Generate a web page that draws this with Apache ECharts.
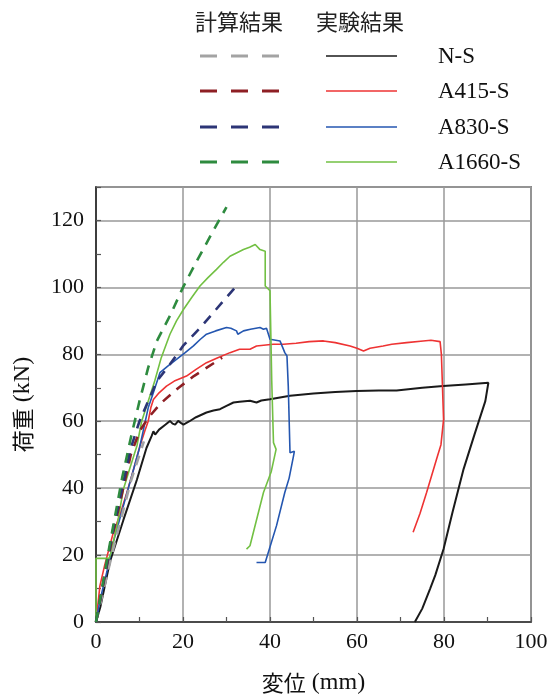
<!DOCTYPE html>
<html><head><meta charset="utf-8">
<script src="https://cdn.jsdelivr.net/npm/echarts@6/dist/echarts.min.js"></script>
<style>html,body{margin:0;padding:0;background:#fff}#c{width:552px;height:700px}</style>
</head><body><div id="c"></div>
<script>
// ---- data: [displacement (mm), load (kN)] ----
const seriesNames = ['N-S', 'A415-S', 'A830-S', 'A1660-S'];
const headerCalc = '計算結果';
const headerExp = '実験結果';
const xTicks = [0, 20, 40, 60, 80, 100];
const yTicks = [0, 20, 40, 60, 80, 100, 120];

const expNS = [[0,0],[1,4.5],[3.2,18],[6.3,30.5],[9.4,42.5],[11.6,52],[12.8,55.6],[13.2,57],[13.6,56],[14.5,57.5],[16,59],[17,60.1],[17.6,59.3],[18.2,59],[18.9,60.1],[19.5,59.5],[20.1,59],[21.5,60],[23,61.2],[25.4,62.6],[27,63.2],[28.5,63.6],[30,64.6],[31.6,65.6],[33,65.8],[35.4,66.1],[36.9,65.6],[38,66.2],[40,66.6],[44.6,67.6],[50,68.3],[55,68.7],[59.9,69],[65,69.2],[69.1,69.2],[75,70],[79.8,70.5],[85,71],[90.2,71.5],[89.5,66],[87,56],[84.5,45.7],[82,33],[79.9,21.8],[78,14],[76.8,9.9],[75,4],[73.3,0]];
const expA415 = [[0,0],[0.9,10.8],[2,17],[4,26.8],[5.5,32],[7.1,38.7],[8.5,45],[10.1,52.6],[11.2,57],[12,60],[12.6,64],[13.2,66.5],[14.5,68.5],[16.2,70.5],[18,72],[20.8,73.5],[23,75.5],[25.4,77.5],[28,79],[30.8,80.5],[33,81.5],[35.4,81.5],[36.9,82.5],[40.7,83],[43.1,83],[46,83.3],[49,83.8],[52.3,84],[55,83.5],[58.4,82.5],[60,81.8],[61.5,81],[63,81.8],[66,82.5],[68,83],[71.4,83.5],[75.2,84],[77,84.2],[79.1,83.8],[79.4,80],[79.9,60.5],[80.2,60],[79.3,53],[78.3,48.7],[76,38.7],[74.5,32.5],[72.9,26.8]];
const expA830 = [[0,0],[1,7],[2.5,15],[4,24],[5.5,31],[7,38],[8.5,45],[10,52],[11,58],[12,64],[13.2,68.6],[14.7,74.5],[16.5,76.5],[18.5,78.5],[20.5,80.5],[22.4,82.5],[24,84.5],[25.4,86],[27.5,87],[30,88],[31,87.8],[32.3,87],[32.6,86],[33.9,87],[35.5,87.5],[37.7,88],[38.5,87.5],[39.2,87.8],[40,84.5],[42.3,84],[43.4,80.5],[43.9,79.5],[44.2,70.5],[44.6,50.6],[45.6,51],[45.4,49.6],[44.4,43],[43.4,38.7],[41.5,28.8],[38.9,17.8],[36.9,17.8]];
const expA1660 = [[0,0],[0,19],[3,19],[3.5,21],[5,30],[6.3,39.7],[7.8,46],[9.4,52.6],[10.5,60],[12,66],[13.5,72],[15,79],[17,86],[18.5,90],[20.1,93.4],[22,97],[23.9,100.4],[25.8,103],[27.7,105.4],[29.3,107.5],[30.8,109.3],[32.3,110.3],[33.9,111.3],[35.3,112],[36.6,112.8],[37.7,111.3],[38.9,110.8],[38.9,100.4],[40,99],[40.4,72],[40.8,53.6],[41.4,51.6],[40.3,45],[38.5,38.7],[37,31],[35.4,22.8],[34.6,21.8]];

const calcNS = [[0,0],[4,22],[8,42],[11,54]];
const calcA415 = [[0,0],[4,27],[8,50],[10,57],[12,61],[15,65.5],[19,70],[22.5,73.5],[29,79]];
const calcA830 = [[0,0],[4,28],[8,52],[10,60],[12,66],[14,72],[17,77],[20,82.5],[24,88],[27,92.5],[32,100]];
const calcA1660 = [[0,0],[3,22],[6,43],[8,55],[10,66],[12,76],[14,84],[17,91.5],[20,100],[23,107.5],[27,117],[30,124]];

// ---- styles ----
const expColors = ['#1a1a1a', '#ee3333', '#2456b0', '#72c043'];
const calcColors = ['#a3a3a3', '#8e1f24', '#2c3576', '#2e8b3f'];
const expData = [expNS, expA415, expA830, expA1660];
const calcData = [calcNS, calcA415, calcA830, calcA1660];

const chart = echarts.init(document.getElementById('c'), null, {renderer: 'canvas'});
const serif = '"Liberation Serif", "Times New Roman", serif';
const cjk = '"Noto Sans CJK JP", sans-serif';

const series = [];
expData.forEach((d, i) => series.push({
  type: 'line', name: seriesNames[i] + ' exp', data: d, showSymbol: false, smooth: false,
  lineStyle: {color: expColors[i], width: i === 0 ? 2 : 1.6}, z: 2, animation: false
}));
calcData.forEach((d, i) => series.push({
  type: 'line', name: seriesNames[i] + ' calc', data: d, showSymbol: false, smooth: false,
  lineStyle: {color: calcColors[i], width: 2.6, type: [10, 8]}, z: 3, animation: false
}));

const graphic = [
  {type: 'text', x: 195, y: 22, style: {text: headerCalc, fontFamily: cjk, fontSize: 22, fill: '#222', verticalAlign: 'middle'}},
  {type: 'text', x: 316, y: 22, style: {text: headerExp, fontFamily: cjk, fontSize: 22, fill: '#222', verticalAlign: 'middle'}}
];
const rowY = [56, 91, 127, 162];
seriesNames.forEach((n, i) => {
  graphic.push({type: 'line', shape: {x1: 200, y1: rowY[i], x2: 281, y2: rowY[i]}, style: {stroke: calcColors[i], lineWidth: 3, lineDash: [17, 14]}});
  graphic.push({type: 'line', shape: {x1: 326, y1: rowY[i], x2: 397, y2: rowY[i]}, style: {stroke: expColors[i], lineWidth: 1.5}});
  graphic.push({type: 'text', x: 438, y: rowY[i] + 1, style: {text: n, fontFamily: serif, fontSize: 23, fill: '#111', verticalAlign: 'middle'}});
});

chart.setOption({
  backgroundColor: '#fff',
  animation: false,
  grid: {left: 96, right: 21, top: 187, bottom: 77, show: true, borderColor: '#888', borderWidth: 2},
  xAxis: {
    type: 'value', min: xTicks[0], max: xTicks[xTicks.length - 1], interval: 20,
    axisLine: {lineStyle: {color: '#333', width: 1.5}},
    axisTick: {inside: true, length: 5, lineStyle: {color: '#555', width: 1.2}},
    minorTick: {show: true, splitNumber: 2, length: 5, lineStyle: {color: '#555', width: 1.2}},
    splitLine: {show: true, lineStyle: {color: '#999', width: 1.5}},
    axisLabel: {fontFamily: serif, fontSize: 22, color: '#111', margin: 9},
    name: '{a|変位}{b|(mm)}', nameLocation: 'middle', nameGap: 49,
    nameTextStyle: {rich: {a: {fontFamily: cjk, fontSize: 22, color: '#111', padding: [0, 6, 0, 0]}, b: {fontFamily: serif, fontSize: 24, color: '#111'}}}
  },
  yAxis: {
    type: 'value', min: 0, max: 130, interval: 20,
    axisLine: {lineStyle: {color: '#222', width: 1.5}},
    axisTick: {inside: true, length: 5, lineStyle: {color: '#555', width: 1.2}},
    minorTick: {show: true, splitNumber: 2, length: 5, lineStyle: {color: '#555', width: 1.2}},
    splitLine: {show: true, lineStyle: {color: '#999', width: 1.5}},
    axisLabel: {fontFamily: serif, fontSize: 22, color: '#111', margin: 12, showMaxLabel: false},
    name: '{a|荷重}{b|(kN)}', nameLocation: 'middle', nameGap: 61, nameRotate: 90,
    nameTextStyle: {rich: {a: {fontFamily: cjk, fontSize: 22, color: '#111', padding: [0, 6, 0, 0]}, b: {fontFamily: serif, fontSize: 24, color: '#111'}}}
  },
  graphic: graphic,
  series: series
});
</script></body></html>
